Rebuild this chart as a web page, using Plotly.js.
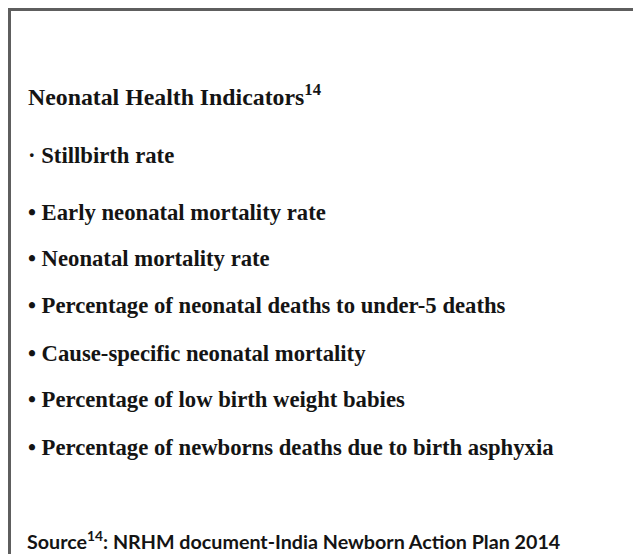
<!DOCTYPE html>
<html>
<head>
<meta charset="utf-8">
<script src="https://cdn.plot.ly/plotly-3.0.1.min.js"></script>
<style>html,body{margin:0;padding:0;background:#fff;}#chart{width:633px;height:554px;}</style>
</head>
<body>
<div id="chart"></div>
<script>
// Content
const heading = "Neonatal Health Indicators<sup>14</sup>";
const indicators = [
  "Stillbirth rate",
  "Early neonatal mortality rate",
  "Neonatal mortality rate",
  "Percentage of neonatal deaths to under-5 deaths",
  "Cause-specific neonatal mortality",
  "Percentage of low birth weight babies",
  "Percentage of newborns deaths due to birth asphyxia"
];
const sourceNote = "Source<sup>14</sup>: NRHM document-India Newborn Action Plan 2014";

// Layout positions (pixels within the 633x554 canvas)
const textLeft = 26;
const headingY = 95;
const itemY = [155, 212, 258, 305, 353, 399, 447];
const sourceY = 540;

const serifFamily = "Liberation Serif, Times New Roman, serif";
const annotations = [];
annotations.push({x: textLeft, y: headingY, xref: "x", yref: "y", xanchor: "left", yanchor: "middle",
  showarrow: false, text: "<b>" + heading + "</b>",
  font: {family: serifFamily, size: 23.8, color: "#141414"}});
indicators.forEach((t, i) => {
  annotations.push({x: textLeft, y: itemY[i], xref: "x", yref: "y", xanchor: "left", yanchor: "middle",
    showarrow: false, text: "<b>" + (i === 0 ? "· " : "• ") + t + "</b>",
    font: {family: serifFamily, size: 22.7, color: "#141414"}});
});
annotations.push({x: textLeft - 1, y: sourceY, xref: "x", yref: "y", xanchor: "left", yanchor: "middle",
  showarrow: false, text: "<b>" + sourceNote + "</b>",
  font: {family: "Lato, Open Sans, sans-serif", size: 19.7, color: "#141414"}});

const layout = {
  width: 633, height: 554,
  margin: {l: 0, r: 0, t: 0, b: 0},
  paper_bgcolor: "#ffffff", plot_bgcolor: "#ffffff",
  showlegend: false,
  xaxis: {range: [0, 633], visible: false, fixedrange: true},
  yaxis: {range: [554, 0], visible: false, fixedrange: true},
  annotations: annotations,
  shapes: [
    {type: "line", xref: "x", yref: "y", x0: 8, x1: 633, y0: 9.5, y1: 9.5, line: {color: "#5e5e5e", width: 3}},
    {type: "line", xref: "x", yref: "y", x0: 9.5, x1: 9.5, y0: 8, y1: 554, line: {color: "#5e5e5e", width: 3}}
  ]
};
Plotly.newPlot("chart", [], layout, {displayModeBar: false, staticPlot: true});
</script>
</body>
</html>
